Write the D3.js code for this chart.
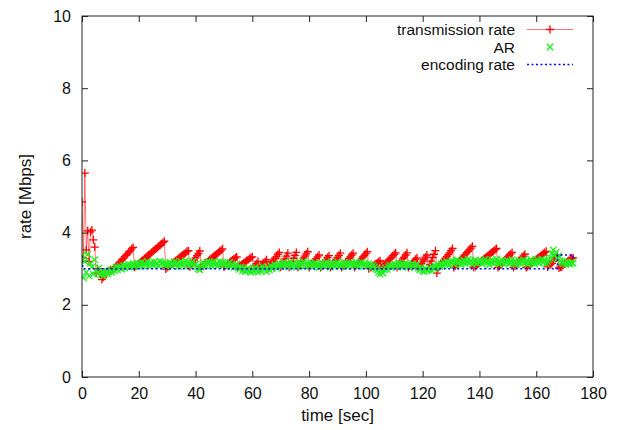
<!DOCTYPE html>
<html>
<head>
<meta charset="utf-8">
<script src="https://cdn.jsdelivr.net/npm/d3@7"></script>
<style>
  html, body { margin: 0; padding: 0; background: #fff; }
  svg { display: block; font-family: "Liberation Sans", Arial, sans-serif; }
</style>
</head>
<body>
<svg id="chart" width="622" height="430"></svg>
<script>
// ---------------- DATA ----------------
const seriesNames = ["transmission rate", "AR", "encoding rate"];
const xTicks = [0, 20, 40, 60, 80, 100, 120, 140, 160, 180];
const yTicks = [0, 2, 4, 6, 8, 10];
const sampleStep = 0.5; // seconds between samples (time axis of the two sampled series)

// transmission rate [Mbps], one value every 0.5 s from t = 0
const transmissionRate = [
  4.85, 3.30, 5.65, 3.52, 4.05, 3.20, 4.02, 4.07, 3.80, 3.60,
  2.88, 3.00, 2.95, 2.85, 2.70, 2.76, 2.84, 2.90, 2.92, 2.94,
  2.95, 2.96, 2.97, 3.01, 3.06, 3.10, 3.15, 3.19, 3.24, 3.28,
  3.33, 3.37, 3.41, 3.46, 3.50, 3.55, 3.59, 3.04, 3.07, 3.11,
  3.14, 3.18, 3.21, 3.24, 3.28, 3.31, 3.35, 3.38, 3.41, 3.45,
  3.48, 3.52, 3.55, 3.58, 3.62, 3.65, 3.69, 3.72, 3.76, 2.99,
  3.03, 3.06, 3.09, 3.12, 3.16, 3.19, 3.22, 3.25, 3.28, 3.32,
  3.35, 3.38, 3.41, 3.44, 3.48, 3.50, 3.05, 3.11, 3.17, 3.24,
  3.30, 3.36, 3.42, 3.49, 3.05, 3.08, 3.11, 3.15, 3.18, 3.21,
  3.25, 3.28, 3.31, 3.35, 3.38, 3.41, 3.44, 3.48, 3.51, 3.55,
  3.05, 3.08, 3.11, 3.14, 3.17, 3.21, 3.24, 3.27, 3.30, 3.33,
  3.04, 3.07, 3.10, 3.13, 3.16, 3.19, 3.22, 3.25, 3.28, 3.31,
  3.33, 3.02, 3.08, 3.14, 3.20, 3.02, 3.07, 3.11, 3.16, 3.20,
  3.25, 3.03, 3.08, 3.13, 3.19, 3.24, 3.29, 3.34, 3.40, 3.45,
  3.04, 3.12, 3.20, 3.27, 3.35, 3.43, 3.04, 3.12, 3.20, 3.29,
  3.37, 3.45, 3.04, 3.10, 3.16, 3.22, 3.29, 3.35, 3.41, 3.47,
  3.03, 3.08, 3.13, 3.18, 3.23, 3.28, 3.33, 3.38, 3.03, 3.09,
  3.14, 3.20, 3.25, 3.31, 3.36, 3.03, 3.09, 3.14, 3.20, 3.26,
  3.31, 3.37, 3.43, 3.03, 3.08, 3.13, 3.18, 3.23, 3.28, 3.33,
  3.38, 3.43, 3.03, 3.08, 3.13, 3.18, 3.23, 3.28, 3.33, 3.37,
  3.42, 3.47, 3.00, 3.03, 3.05, 3.08, 3.11, 3.14, 3.16, 3.19,
  3.22, 3.02, 3.06, 3.10, 3.15, 3.19, 3.23, 3.27, 3.31, 3.36,
  3.40, 3.44, 3.03, 3.09, 3.15, 3.21, 3.27, 3.32, 3.38, 3.44,
  3.03, 3.08, 3.12, 3.17, 3.21, 3.26, 3.30, 3.02, 3.08, 3.14,
  3.20, 3.26, 3.32, 3.38, 3.02, 3.12, 3.21, 3.31, 3.40, 3.50,
  2.88, 3.03, 3.08, 3.13, 3.18, 3.24, 3.29, 3.34, 3.39, 3.44,
  3.50, 3.56, 3.03, 3.08, 3.12, 3.17, 3.21, 3.26, 3.30, 3.35,
  3.39, 3.44, 3.48, 3.53, 3.57, 3.62, 3.03, 3.06, 3.10, 3.13,
  3.16, 3.20, 3.23, 3.26, 3.30, 3.33, 3.36, 3.39, 3.43, 3.46,
  3.49, 3.53, 3.56, 3.03, 3.07, 3.11, 3.16, 3.20, 3.24, 3.29,
  3.33, 3.37, 3.41, 3.45, 3.03, 3.08, 3.12, 3.17, 3.22, 3.26,
  3.31, 3.35, 3.40, 3.03, 3.06, 3.10, 3.13, 3.16, 3.19, 3.22,
  3.26, 3.29, 3.32, 3.35, 3.38, 3.42, 3.45, 3.48, 3.05, 3.10,
  3.12, 3.15, 3.20, 3.30, 3.35, 3.38, 3.02, 3.05, 3.05, 3.10,
  3.14, 3.17, 3.20, 3.23, 3.26, 3.29, 3.30
];

// AR [Mbps], one value every 0.5 s from t = 0
const arRate = [
  3.35, 2.75, 3.20, 2.90, 3.40, 2.80, 3.15, 3.05, 2.85, 3.25,
  2.95, 2.88, 3.02, 2.84, 2.92, 2.80, 2.87, 2.93, 2.85, 2.91,
  2.96, 2.90, 3.00, 2.95, 3.04, 2.97, 3.03, 3.06, 2.99, 3.08,
  3.02, 3.10, 3.05, 3.12, 3.04, 3.09, 3.14, 3.06, 3.11, 3.16,
  3.08, 3.13, 3.18, 3.07, 3.15, 3.11, 3.20, 3.09, 3.14, 3.17,
  3.10, 3.19, 3.12, 3.16, 3.08, 3.21, 3.13, 3.17, 3.10, 3.15,
  3.05, 3.12, 3.18, 3.08, 3.14, 3.20, 3.10, 3.16, 3.06, 3.13,
  3.19, 3.09, 3.15, 3.22, 3.11, 3.17, 3.07, 3.14, 3.20, 3.10,
  3.13, 3.05, 3.00, 2.97, 3.04, 3.11, 3.16, 3.09, 3.19, 3.12,
  3.18, 3.08, 3.15, 3.21, 3.11, 3.16, 3.09, 3.20, 3.13, 3.17,
  3.10, 3.15, 3.07, 3.12, 3.18, 3.06, 3.11, 3.04, 3.09, 3.13,
  3.03, 2.98, 3.05, 2.94, 3.00, 2.92, 2.97, 3.02, 2.95, 2.90,
  2.98, 2.93, 3.04, 2.96, 2.91, 3.01, 2.94, 3.06, 2.97, 3.00,
  2.92, 3.03, 2.97, 3.08, 3.00, 3.05, 3.11, 3.02, 3.09, 3.14,
  3.06, 3.12, 3.17, 3.08, 3.14, 3.05, 3.11, 3.19, 3.09, 3.15,
  3.10, 3.04, 3.13, 3.18, 3.08, 3.14, 3.20, 3.07, 3.12, 3.16,
  3.09, 3.15, 3.05, 3.11, 3.17, 3.08, 3.13, 3.03, 3.10, 3.16,
  3.07, 3.12, 3.18, 3.09, 3.14, 3.04, 3.11, 3.16, 3.08, 3.13,
  3.19, 3.10, 3.06, 3.14, 3.09, 3.17, 3.12, 3.05, 3.15, 3.10,
  3.16, 3.08, 3.13, 3.19, 3.11, 3.06, 3.14, 3.18, 3.09, 3.15,
  3.12, 3.07, 3.14, 3.09, 3.03, 3.10, 3.05, 3.00, 2.96, 2.90,
  2.85, 2.92, 2.88, 2.97, 3.02, 2.98, 3.05, 3.10, 3.03, 3.08,
  3.13, 3.06, 3.11, 3.16, 3.08, 3.14, 3.04, 3.10, 3.15, 3.07,
  3.12, 3.05, 3.09, 3.14, 3.03, 3.08, 3.12, 3.02, 2.97, 3.03,
  2.95, 2.92, 2.99, 2.94, 2.97, 3.02, 2.96, 3.05, 3.00, 3.08,
  3.03, 3.10, 3.06, 3.14, 3.09, 3.17, 3.12, 3.20, 3.15, 3.10,
  3.18, 3.22, 3.13, 3.19, 3.25, 3.15, 3.21, 3.11, 3.17, 3.23,
  3.14, 3.20, 3.26, 3.16, 3.22, 3.12, 3.19, 3.24, 3.15, 3.21,
  3.17, 3.23, 3.13, 3.19, 3.26, 3.16, 3.21, 3.11, 3.18, 3.24,
  3.15, 3.20, 3.27, 3.17, 3.12, 3.19, 3.23, 3.14, 3.21, 3.16,
  3.22, 3.13, 3.18, 3.25, 3.15, 3.20, 3.11, 3.17, 3.23, 3.14,
  3.19, 3.24, 3.16, 3.21, 3.12, 3.18, 3.26, 3.15, 3.20, 3.13,
  3.19, 3.24, 3.16, 3.22, 3.27, 3.17, 3.23, 3.14, 3.20, 3.25,
  3.30, 3.42, 3.52, 3.38, 3.45, 3.28, 3.35, 3.22, 3.18, 3.14,
  3.17, 3.12, 3.19, 3.15, 3.13, 3.18, 3.15
];

// encoding rate [Mbps] as (time, value) steps
const encodingTime = [0, 0.3, 167.5, 167.5, 173, 173];
const encodingRate = [3.35, 3.0, 3.0, 3.38, 3.38, 3.25];

// ---------------- CHART ----------------
const svg = d3.select("#chart");
const font = '"Liberation Sans", Arial, sans-serif';
const x = d3.scaleLinear().domain([0, 180]).range([82, 593]);
const y = d3.scaleLinear().domain([0, 10]).range([377, 16]);

const txData = transmissionRate.map((v, i) => ({ t: i * sampleStep, v }));
const arData = arRate.map((v, i) => ({ t: i * sampleStep, v }));
const encData = encodingTime.map((t, i) => ({ t, v: encodingRate[i] }));

const colors = { tx: "#ff0000", ar: "#22ee22", enc: "#0000ff" };
const txSize = 4, arSize = 3.2;

svg.append("defs").append("clipPath").attr("id", "plotclip")
  .append("rect").attr("x", x(0)).attr("y", y(10)).attr("width", x(180) - x(0)).attr("height", y(0) - y(10));

const plot = svg.append("g").attr("clip-path", "url(#plotclip)");
const line = d3.line().x(d => x(d.t)).y(d => y(d.v));

function plus(g, cx, cy, s, color) {
  g.append("path").attr("d", `M${cx - s},${cy}H${cx + s}M${cx},${cy - s}V${cy + s}`)
    .attr("stroke", color).attr("stroke-width", 1.3).attr("fill", "none");
}
function cross(g, cx, cy, s, color) {
  g.append("path").attr("d", `M${cx - s},${cy - s}L${cx + s},${cy + s}M${cx - s},${cy + s}L${cx + s},${cy - s}`)
    .attr("stroke", color).attr("stroke-width", 1.4).attr("fill", "none");
}

// transmission rate: line + "+" points
plot.append("path").datum(txData).attr("d", line)
  .attr("fill", "none").attr("stroke", colors.tx).attr("stroke-opacity", 0.55).attr("stroke-width", 1);
const txG = plot.append("g");
txData.forEach(d => plus(txG, x(d.t), y(d.v), txSize, colors.tx));

// AR: "x" points
const arG = plot.append("g");
arData.forEach(d => cross(arG, x(d.t), y(d.v), arSize, colors.ar));

// encoding rate: dotted line
plot.append("path").datum(encData).attr("d", line)
  .attr("fill", "none").attr("stroke", colors.enc).attr("stroke-width", 1.5).attr("stroke-dasharray", "2,2.5");

// axes
const tickLen = 6;
function styleAxis(g) {
  g.select(".domain").remove();
  g.selectAll(".tick line").attr("stroke", "#222");
  g.selectAll(".tick text").attr("fill", "#111").style("font-family", font).style("font-size", "16px");
}
svg.append("g").attr("transform", `translate(0,${y(0)})`)
  .call(d3.axisBottom(x).tickValues(xTicks).tickSizeInner(-tickLen).tickSizeOuter(0).tickPadding(11))
  .call(styleAxis);
svg.append("g").attr("transform", `translate(0,${y(10)})`)
  .call(d3.axisTop(x).tickValues(xTicks).tickSizeInner(-tickLen).tickSizeOuter(0).tickFormat(""))
  .call(styleAxis);
svg.append("g").attr("transform", `translate(${x(0)},0)`)
  .call(d3.axisLeft(y).tickValues(yTicks).tickSizeInner(-tickLen).tickSizeOuter(0).tickPadding(11))
  .call(styleAxis);
svg.append("g").attr("transform", `translate(${x(180)},0)`)
  .call(d3.axisRight(y).tickValues(yTicks).tickSizeInner(-tickLen).tickSizeOuter(0).tickFormat(""))
  .call(styleAxis);

// frame
svg.append("rect").attr("x", x(0)).attr("y", y(10)).attr("width", x(180) - x(0)).attr("height", y(0) - y(10))
  .attr("fill", "none").attr("stroke", "#222").attr("stroke-width", 1);

// axis titles
svg.append("text").attr("x", (x(0) + x(180)) / 2).attr("y", 421).attr("text-anchor", "middle")
  .style("font-family", font).style("font-size", "17px").attr("fill", "#111").text("time [sec]");
svg.append("text").attr("transform", `translate(31,${(y(0) + y(10)) / 2}) rotate(-90)`).attr("text-anchor", "middle")
  .style("font-family", font).style("font-size", "17px").attr("fill", "#111").text("rate [Mbps]");

// legend
const legend = svg.append("g");
const legY = [29.5, 47, 64.5];
const lx0 = 527, lx1 = 573, lxm = 550, ltx = 515;
seriesNames.forEach((name, i) => {
  legend.append("text").attr("x", ltx).attr("y", legY[i] + 5.5).attr("text-anchor", "end")
    .style("font-family", font).style("font-size", "15.5px").attr("fill", "#111").text(name);
});
legend.append("line").attr("x1", lx0).attr("x2", lx1).attr("y1", legY[0]).attr("y2", legY[0])
  .attr("stroke", colors.tx).attr("stroke-opacity", 0.55);
plus(legend, lxm, legY[0], txSize, colors.tx);
cross(legend, lxm, legY[1], arSize, colors.ar);
legend.append("line").attr("x1", lx0).attr("x2", lx1).attr("y1", legY[2]).attr("y2", legY[2])
  .attr("stroke", colors.enc).attr("stroke-width", 1.5).attr("stroke-dasharray", "2,2.5");
</script>
</body>
</html>
